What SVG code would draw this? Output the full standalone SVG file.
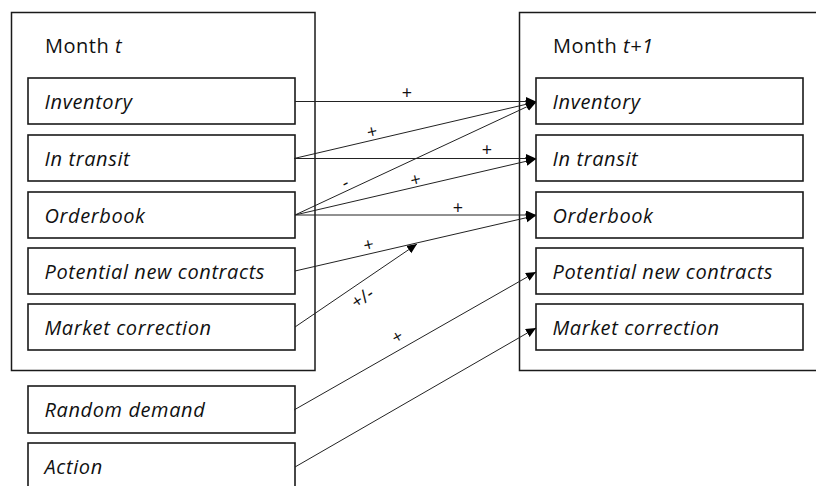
<svg xmlns="http://www.w3.org/2000/svg" width="816" height="486" viewBox="0 0 816 486">
  <style>
    .frame { fill: #ffffff; stroke: #1a1a1a; stroke-width: 1.5; }
    .box { fill: #ffffff; stroke: #1a1a1a; stroke-width: 1.6; }
    .title { font-family: "Open Sans", "Liberation Sans", sans-serif; font-size: 20px; letter-spacing: 0.5px; fill: #111111; }
    .var { font-family: "Open Sans", "Liberation Sans", sans-serif; font-size: 20px; letter-spacing: 0.6px; font-style: italic; fill: #111111; }
    .edge { fill: none; stroke: #222222; stroke-width: 1; marker-end: url(#head); }
    .sign { font-family: "Open Sans", "Liberation Sans", sans-serif; font-size: 18px; fill: #111111; text-anchor: middle; dominant-baseline: central; }
  </style>
  <defs>
    <marker id="head" markerUnits="userSpaceOnUse" markerWidth="10" markerHeight="10" refX="10" refY="4.5" orient="auto">
      <path d="M0,0 L10,4.5 L0,9 Z" fill="#000000"/>
    </marker>
  </defs>

  <rect x="0" y="0" width="816" height="486" fill="#ffffff"/>

  <!-- month t -->
  <g id="month-t">
    <rect class="frame" x="11.5" y="12.5" width="303.5" height="358"/>
    <text class="title" x="45" y="52.5">Month <tspan font-style="italic">t</tspan></text>
  </g>
  <g id="t-inventory">
    <rect class="box" x="28" y="78" width="267" height="46"/>
    <text class="var" x="44.5" y="108.5">Inventory</text>
  </g>
  <g id="t-transit">
    <rect class="box" x="28" y="135" width="267" height="46"/>
    <text class="var" x="44.5" y="165.5">In transit</text>
  </g>
  <g id="t-orderbook">
    <rect class="box" x="28" y="192" width="267" height="46"/>
    <text class="var" x="44.5" y="222.5">Orderbook</text>
  </g>
  <g id="t-contracts">
    <rect class="box" x="28" y="248" width="267" height="46"/>
    <text class="var" x="44.5" y="278.5">Potential new contracts</text>
  </g>
  <g id="t-correction">
    <rect class="box" x="28" y="304" width="267" height="46"/>
    <text class="var" x="44.5" y="334.5">Market correction</text>
  </g>

  <!-- exogenous inputs -->
  <g id="random-demand">
    <rect class="box" x="28" y="386" width="267" height="47"/>
    <text class="var" x="44.5" y="417">Random demand</text>
  </g>
  <g id="action">
    <rect class="box" x="28" y="443" width="267" height="50"/>
    <text class="var" x="44.5" y="473.5">Action</text>
  </g>

  <!-- month t+1 -->
  <g id="month-t1">
    <rect class="frame" x="519.5" y="12.5" width="320" height="358"/>
    <text class="title" x="553" y="52.5">Month <tspan font-style="italic">t+1</tspan></text>
  </g>
  <g id="t1-inventory">
    <rect class="box" x="536" y="78" width="267" height="46"/>
    <text class="var" x="552.5" y="108.5">Inventory</text>
  </g>
  <g id="t1-transit">
    <rect class="box" x="536" y="135" width="267" height="46"/>
    <text class="var" x="552.5" y="165.5">In transit</text>
  </g>
  <g id="t1-orderbook">
    <rect class="box" x="536" y="192" width="267" height="46"/>
    <text class="var" x="552.5" y="222.5">Orderbook</text>
  </g>
  <g id="t1-contracts">
    <rect class="box" x="536" y="248" width="267" height="46"/>
    <text class="var" x="552.5" y="278.5">Potential new contracts</text>
  </g>
  <g id="t1-correction">
    <rect class="box" x="536" y="304" width="267" height="46"/>
    <text class="var" x="552.5" y="334.5">Market correction</text>
  </g>

  <!-- transitions -->
  <g id="connectors">
    <line class="edge" x1="295" y1="101.5" x2="536" y2="101.5"/>
    <line class="edge" x1="294" y1="158.5" x2="536" y2="102"/>
    <line class="edge" x1="294" y1="158.5" x2="536" y2="158.5"/>
    <line class="edge" x1="295" y1="215" x2="536" y2="102.5"/>
    <line class="edge" x1="295" y1="215" x2="536" y2="159"/>
    <line class="edge" x1="295" y1="215" x2="536" y2="215"/>
    <line class="edge" x1="295" y1="271" x2="536" y2="215.5"/>
    <line class="edge" x1="295" y1="327" x2="417" y2="244"/>
    <line class="edge" x1="294" y1="410" x2="536" y2="272"/>
    <line class="edge" x1="295" y1="467" x2="536" y2="328"/>

    <text class="sign" x="407" y="92">+</text>
    <text class="sign" transform="translate(372 131) rotate(-13.3)">+</text>
    <text class="sign" x="487" y="149">+</text>
    <text class="sign" transform="translate(344.5 182) rotate(-25.3)">-</text>
    <text class="sign" transform="translate(415.5 179) rotate(-13.3)">+</text>
    <text class="sign" x="458" y="207">+</text>
    <text class="sign" transform="translate(368.5 244) rotate(-13.1)">+</text>
    <text class="sign" transform="translate(362 297) rotate(-34)">+/-</text>
    <text class="sign" transform="translate(397 336) rotate(-29.8)">+</text>
  </g>
</svg>
